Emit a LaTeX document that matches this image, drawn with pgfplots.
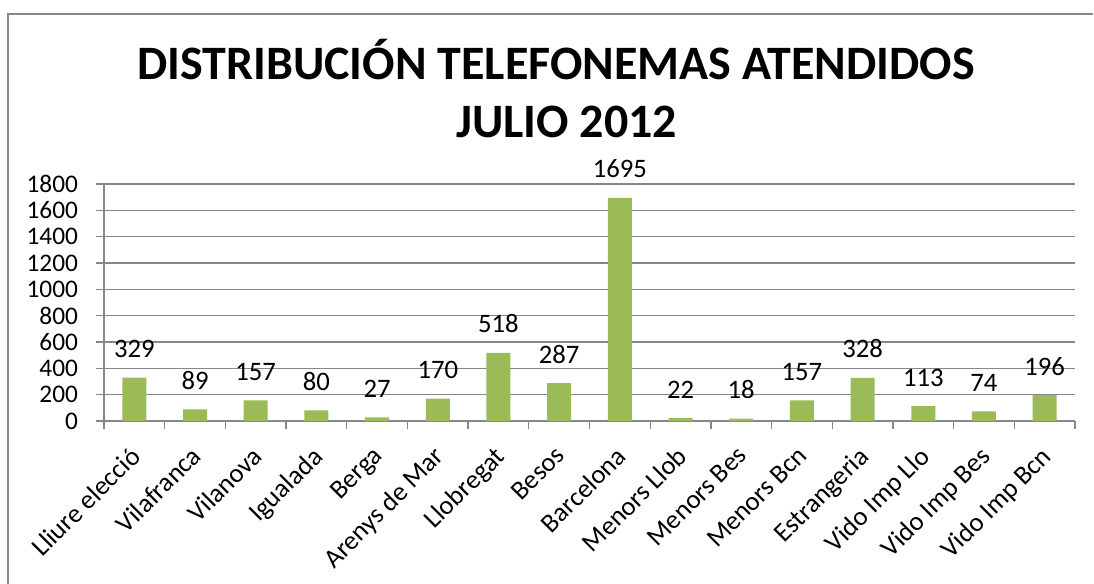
\documentclass[border=0pt]{standalone}
\usepackage{pgfplots}
\pgfplotsset{compat=1.18}
\usepackage{fontspec}
\setmainfont{Carlito}
\definecolor{bargreen}{HTML}{9BBB59}
\definecolor{gridgray}{HTML}{878787}
\begin{document}
\begin{tikzpicture}
\useasboundingbox (0,0) rectangle (820.5pt,-438pt);
% frame
\draw[gridgray, line width=1.5pt] (6pt,-438pt) -- (6pt,-10.5pt) -- (820pt,-10.5pt);
\node[font=\fontsize{36}{42}\selectfont\bfseries, anchor=base] at (417pt,-60pt) {DISTRIBUCIÓN TELEFONEMAS ATENDIDOS};
\node[font=\fontsize{36}{42}\selectfont\bfseries, anchor=base] at (425pt,-103.5pt) {JULIO 2012};
\begin{axis}[
  at={(78pt,-315.75pt)}, anchor=south west,
  scale only axis, width=728.25pt, height=177.75pt,
  xmin=-0.5, xmax=15.5, ymin=0, ymax=1800,
  ytick={0,200,...,1800},
  xtick={0,...,15},
  xticklabels={Lliure elecció,Vilafranca,Vilanova,Igualada,Berga,Arenys de Mar,Llobregat,Besos,Barcelona,Menors Llob,Menors Bes,Menors Bcn,Estrangeria,Vido Imp Llo,Vido Imp Bes,Vido Imp Bcn},
  minor xtick={-0.5,0.5,...,15.5},
  axis x line*=bottom, axis y line*=left,
  axis line style={gridgray, line width=1pt},
  tick align=outside,
  major tick length=6pt, minor tick length=6pt,
  major x tick style={draw=none},
  minor x tick style={gridgray, line width=1pt},
  major y tick style={gridgray, line width=1pt},
  ymajorgrids, grid style={gridgray, line width=1pt},
  /pgf/number format/assume math mode=true,
  /pgf/number format/1000 sep={},
  yticklabel style={font=\fontsize{19}{22}\selectfont, xshift=-10pt},
  xticklabel style={font=\fontsize{20}{24}\selectfont, xshift=-4pt, yshift=-7pt, rotate=45, anchor=north east},
  ybar, bar width=18pt,
  nodes near coords,
  every node near coord/.append style={font=\fontsize{20}{24}\selectfont, anchor=base, yshift=15pt, text=black},
  clip=false,
]
\addplot[fill=bargreen, draw=none] coordinates {
(0,329) (1,89) (2,157) (3,80) (4,27) (5,170) (6,518) (7,287) (8,1695) (9,22) (10,18) (11,157) (12,328) (13,113) (14,74) (15,196)
};
\end{axis}
\end{tikzpicture}
\end{document}
